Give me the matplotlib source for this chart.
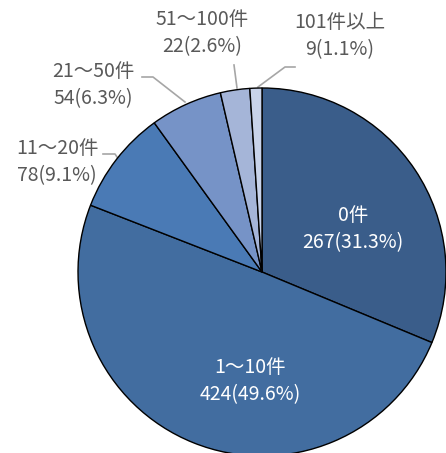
import matplotlib
matplotlib.use("Agg")
import matplotlib.pyplot as plt

plt.rcParams['font.family'] = ['Noto Sans CJK JP', 'DejaVu Sans']

categories = ["0件", "1～10件", "11～20件", "21～50件", "51～100件", "101件以上"]
counts = [267, 424, 78, 54, 22, 9]
percents = [31.3, 49.6, 9.1, 6.3, 2.6, 1.1]
colors = ["#3A5D8A", "#426DA0", "#4A7AB5", "#7693C7", "#A5B5D8", "#C8D3EA"]

W, H = 446, 453
fig = plt.figure(figsize=(W / 100, H / 100), dpi=100)
ax = fig.add_axes([0, 0, 1, 1])

cx, cy, r = 262, H - 272, 184
ax.pie(counts, colors=colors, startangle=90, counterclock=False,
       center=(cx, cy), radius=r, frame=True,
       wedgeprops=dict(edgecolor='black', linewidth=1.0))
ax.set_xlim(0, W)
ax.set_ylim(0, H)
ax.set_aspect('equal')
ax.axis('off')

labels = [f"{c}\n{n}({p}%)" for c, n, p in zip(categories, counts, percents)]

fs = 14

# inside labels
inside_pos = {0: (353, 229), 1: (250, 381)}
for i, (x, y) in inside_pos.items():
    ax.text(x, H - y, labels[i], color='white', fontsize=fs, ha='center',
            va='center', linespacing=1.4)

# outside labels
outside_pos = {2: (57, 162), 3: (93, 85), 4: (202, 33), 5: (340, 36)}
for i, (x, y) in outside_pos.items():
    ax.text(x, H - y, labels[i], color='#595959', fontsize=fs, ha='center',
            va='center', linespacing=1.4)

# leader lines
leaders = [
    [(103, 154), (115, 154), (119, 160)],
    [(142, 77), (153, 77), (185, 102)],
    [(234, 65), (237, 88)],
    [(295, 67), (285, 67), (258, 87)],
]
for pts in leaders:
    xs = [p[0] for p in pts]
    ys = [H - p[1] for p in pts]
    ax.plot(xs, ys, color='#A6A6A6', linewidth=1.2, zorder=0.5)

fig.savefig("out.png", dpi=100)
